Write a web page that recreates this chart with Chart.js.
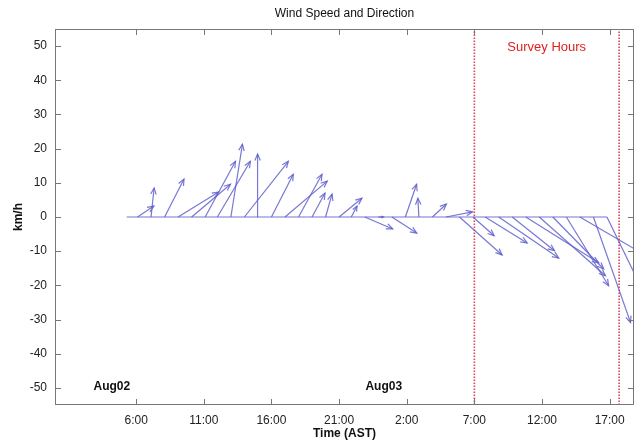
<!DOCTYPE html>
<html>
<head>
<meta charset="utf-8">
<script src="https://cdn.jsdelivr.net/npm/chart.js@4"></script>
<style>
  html,body{margin:0;padding:0;background:#fff;}
  #c{display:block;}
</style>
</head>
<body>
<canvas id="c" width="639" height="443"></canvas>
<script>
// hours since Aug02 00:00 (AST), wind east (u) and north (v) components in km/h
const hours = [5.3, 6.1, 7.1, 8.1, 9.1, 10.1, 11.1, 12.0, 13.0, 14.0,
               15.0, 16.0, 17.0, 18.0, 19.0, 20.0, 21.0, 21.9, 22.9, 23.9,
               24.9, 25.9, 26.9, 27.9, 28.9, 29.9, 30.9, 31.8, 32.8, 33.8,
               34.8, 35.8, 36.8, 37.8, 38.8, 39.8, 40.8];
const windU = [0, 4.8, 0.9, 5.7, 11.9, 11.4, 8.9, 9.7, 3.4, 12.9,
               -0.1, 6.4, 12.4, 6.9, 3.8, 1.9, 6.7, 1.7, 8.2, 1.5,
               7.3, 3.3, -0.3, 4.1, 7.8, 12.5, 6.2, 12.3, 17.6, 12.4,
               21.4, 19.4, 14.9, 12.4, 23, 10.9, 10];
const windV = [0, 3.2, 8.5, 11.1, 7.3, 9.6, 16.3, 16.3, 21.3, 16.3,
               18.4, 12.5, 10.5, 12.5, 7.0, 6.7, 5.5, 3.2, -3.5, 0,
               -4.7, 9.6, 5.5, 3.8, 1.5, -11.1, -5.5, -7.6, -12.0, -9.9,
               -13.4, -17.2, -15.2, -20.1, -13.4, -30.9, -20.5];

const xTickHours = [6, 11, 16, 21, 26, 31, 36, 41];
const xTickLabels = ['6:00', '11:00', '16:00', '21:00', '2:00', '7:00', '12:00', '17:00'];
const yTicks = [-50, -40, -30, -20, -10, 0, 10, 20, 30, 40, 50];

const surveyStart = 31;    // Aug03 7:00
const surveyEnd = 41.7;
const dayLabels = [{text: 'Aug02', hour: 4.2}, {text: 'Aug03', hour: 24.3}];

const K = 0.252; // hours per km/h so arrows keep the y-axis aspect
const arrowColor = 'rgba(95,95,205,0.85)';
const redDots = 'rgba(215,50,70,0.9)';
const FONT = '"Liberation Sans", Arial, sans-serif';

var datasets = [];
datasets.push({data: [{x: hours[0], y: 0}, {x: hours[hours.length - 1], y: 0}]});
hours.forEach(function(t, i){
    datasets.push({data: [{x: t, y: 0}, {x: t + windU[i] * K, y: windV[i]}]});
});
[surveyStart, surveyEnd].forEach(function(t){
    datasets.push({data: [{x: t, y: -55}, {x: t, y: 55}],
        borderColor: redDots, borderWidth: 1.6, borderDash: [1.5, 1.5]});
});

var extras = {
    id: 'extras',
    afterDatasetsDraw: function(chart){
        var ctx = chart.ctx, a = chart.chartArea, x = chart.scales.x, y = chart.scales.y;
        ctx.save();
        ctx.beginPath(); ctx.rect(a.left, a.top, a.right - a.left, a.bottom - a.top); ctx.clip();
        ctx.strokeStyle = arrowColor; ctx.lineWidth = 1.2;
        hours.forEach(function(t, i){
            var x0 = x.getPixelForValue(t), y0 = y.getPixelForValue(0);
            var x1 = x.getPixelForValue(t + windU[i] * K), y1 = y.getPixelForValue(windV[i]);
            var len = Math.hypot(x1 - x0, y1 - y0);
            if (len < 1) return;
            var ang = Math.atan2(y1 - y0, x1 - x0), h = Math.min(7, len * 0.45);
            ctx.beginPath();
            ctx.moveTo(x1 - h * Math.cos(ang - 0.4), y1 - h * Math.sin(ang - 0.4));
            ctx.lineTo(x1, y1);
            ctx.lineTo(x1 - h * Math.cos(ang + 0.4), y1 - h * Math.sin(ang + 0.4));
            ctx.stroke();
        });
        ctx.restore();

        ctx.save();
        // frame and inward ticks
        ctx.strokeStyle = '#777'; ctx.lineWidth = 1;
        ctx.strokeRect(a.left + 0.5, a.top + 0.5, a.right - a.left - 1, a.bottom - a.top - 1);
        ctx.beginPath();
        xTickHours.forEach(function(t){
            var px = Math.round(x.getPixelForValue(t)) + 0.5;
            ctx.moveTo(px, a.bottom); ctx.lineTo(px, a.bottom - 6);
            ctx.moveTo(px, a.top); ctx.lineTo(px, a.top + 6);
        });
        yTicks.forEach(function(v){
            var py = Math.round(y.getPixelForValue(v)) + 0.5;
            ctx.moveTo(a.left, py); ctx.lineTo(a.left + 6, py);
            ctx.moveTo(a.right, py); ctx.lineTo(a.right - 6, py);
        });
        ctx.stroke();

        ctx.textAlign = 'center'; ctx.textBaseline = 'middle';
        ctx.fillStyle = '#111';
        ctx.font = '12px ' + FONT;
        ctx.fillText('Wind Speed and Direction', (a.left + a.right) / 2, 14);
        ctx.font = 'bold 12px ' + FONT;
        ctx.fillText('Time (AST)', (a.left + a.right) / 2, 434);
        dayLabels.forEach(function(d){
            ctx.fillText(d.text, x.getPixelForValue(d.hour), y.getPixelForValue(-49.5));
        });
        ctx.save();
        ctx.translate(19, y.getPixelForValue(0));
        ctx.rotate(-Math.PI / 2);
        ctx.fillText('km/h', 0, 0);
        ctx.restore();
        ctx.fillStyle = '#e02020';
        ctx.font = '13px ' + FONT;
        ctx.fillText('Survey Hours', (x.getPixelForValue(surveyStart) + x.getPixelForValue(surveyEnd)) / 2, y.getPixelForValue(49.5));
        ctx.restore();
    }
};

new Chart(document.getElementById('c'), {
    type: 'line',
    data: {datasets: datasets},
    options: {
        responsive: false,
        animation: false,
        layout: {padding: {top: 29, right: 5, left: 0, bottom: 0}},
        datasets: {line: {borderColor: arrowColor, borderWidth: 1.2, pointRadius: 0, fill: false, tension: 0}},
        plugins: {legend: {display: false}, tooltip: {enabled: false}, title: {display: false}},
        scales: {
            x: {
                type: 'linear', min: 0, max: 42.8,
                grid: {display: false, drawTicks: false}, border: {display: false},
                afterBuildTicks: function(s){ s.ticks = xTickHours.map(function(v){ return {value: v}; }); },
                afterFit: function(s){ s.height = 38; },
                ticks: {padding: 8, color: '#222', font: {family: FONT, size: 12}, maxRotation: 0, autoSkip: false,
                    callback: function(v){ var i = xTickHours.indexOf(v); return i < 0 ? '' : xTickLabels[i]; }}
            },
            y: {
                min: -55, max: 55,
                grid: {display: false, drawTicks: false}, border: {display: false},
                afterBuildTicks: function(s){ s.ticks = yTicks.map(function(v){ return {value: v}; }); },
                afterFit: function(s){ s.width = 55; },
                ticks: {padding: 8, color: '#222', font: {family: FONT, size: 12}}
            }
        }
    },
    plugins: [extras]
});
</script>
</body>
</html>
